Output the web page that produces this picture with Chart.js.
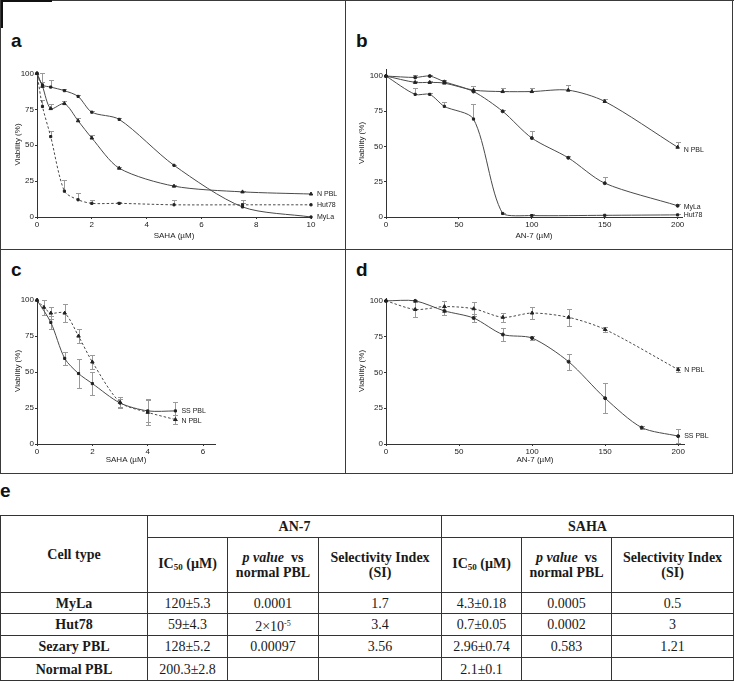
<!DOCTYPE html>
<html>
<head>
<meta charset="utf-8">
<script src="https://cdn.jsdelivr.net/npm/chart.js@4/dist/chart.umd.min.js"></script>
<style>
  body { margin: 0; background: #fff; width: 734px; height: 682px; position: relative; overflow: hidden;
         font-family: "Liberation Sans", Arial, sans-serif; }
  .rule { position: absolute; background: #3a3a3a; }
  .blk { position: absolute; background: #111; }
  .letter { position: absolute; font: bold 19px/19px "Liberation Sans", Arial, sans-serif; color: #111; }
  canvas { position: absolute; }
  table { position: absolute; left: 0; top: 515px; width: 733px; border-collapse: collapse; table-layout: fixed;
          font-family: "Liberation Serif", "Times New Roman", serif; font-size: 14px; color: #1a1a1a; }
  td { border: 1px solid #333; text-align: center; padding: 0; line-height: 15px; }
  td.h { font-weight: bold; }
  sub { font-size: 9px; vertical-align: -2px; }
  sup { font-size: 8px; vertical-align: 5px; }
</style>
</head>
<body>
<!-- panel frame -->
<div class="rule" style="left:0;top:0;width:734px;height:1px"></div>
<div class="blk" style="left:0;top:0;width:52px;height:2px"></div>
<div class="blk" style="left:0;top:0;width:3px;height:28px"></div>
<div class="rule" style="left:0;top:0;width:1px;height:474px"></div>
<div class="rule" style="left:345px;top:0;width:1px;height:474px"></div>
<div class="rule" style="left:732px;top:0;width:1px;height:474px"></div>
<div class="rule" style="left:0;top:249px;width:733px;height:1px"></div>
<div class="rule" style="left:0;top:473px;width:733px;height:1px"></div>

<div class="letter" style="left:11px;top:31px">a</div>
<div class="letter" style="left:356px;top:31px">b</div>
<div class="letter" style="left:11px;top:260px">c</div>
<div class="letter" style="left:356px;top:260px">d</div>
<div class="letter" style="left:0;top:481px">e</div>

<canvas id="chart-a" width="335" height="183" style="left:8px;top:62px"></canvas>
<canvas id="chart-b" width="379" height="187" style="left:352px;top:58px"></canvas>
<canvas id="chart-c" width="335" height="181" style="left:8px;top:288px"></canvas>
<canvas id="chart-d" width="379" height="181" style="left:352px;top:288px"></canvas>

<table>
  <colgroup>
    <col style="width:147px"><col style="width:80px"><col style="width:91px"><col style="width:123px">
    <col style="width:80px"><col style="width:90px"><col style="width:122px">
  </colgroup>
  <tr style="height:22px">
    <td class="h" rowspan="2">Cell type</td>
    <td class="h" colspan="3">AN-7</td>
    <td class="h" colspan="3">SAHA</td>
  </tr>
  <tr style="height:55px">
    <td class="h">IC<sub>50</sub> (µM)</td>
    <td class="h"><i>p value</i>&nbsp; vs<br>normal PBL</td>
    <td class="h">Selectivity Index<br>(SI)</td>
    <td class="h">IC<sub>50</sub> (µM)</td>
    <td class="h"><i>p value</i>&nbsp; vs<br>normal PBL</td>
    <td class="h">Selectivity Index<br>(SI)</td>
  </tr>
  <tr style="height:21px"><td class="h">MyLa</td><td>120±5.3</td><td>0.0001</td><td>1.7</td><td>4.3±0.18</td><td>0.0005</td><td>0.5</td></tr>
  <tr style="height:22px"><td class="h">Hut78</td><td>59±4.3</td><td>2×10<sup>-5</sup></td><td>3.4</td><td>0.7±0.05</td><td>0.0002</td><td>3</td></tr>
  <tr style="height:22px"><td class="h">Sezary PBL</td><td>128±5.2</td><td>0.00097</td><td>3.56</td><td>2.96±0.74</td><td>0.583</td><td>1.21</td></tr>
  <tr style="height:23px"><td class="h">Normal PBL</td><td>200.3±2.8</td><td></td><td></td><td>2.1±0.1</td><td></td><td></td></tr>
</table>

<script>
// 生存率曲線 (viability %) — 値は元図から目視で読み取り

// a: SAHA, cell lines
const A_X = [0, 0.2, 0.5, 1, 1.5, 2, 3, 5, 7.5, 10];
const A_MYLA = [100, 92, 90.5, 88, 84, 73, 68, 36, 7, 0];
const A_MYLA_ERR = [0, 8, 5, 1, 1, 0.5, 1, 0.5, 4.5, 0];
const A_NPBL = [100, 91, 75.5, 79, 67, 55, 34, 21.5, 17.5, 16];
const A_NPBL_ERR = [0, 3, 3, 2, 2, 2, 1, 0.5, 0.5, 0];
const A_HUT78 = [100, 77, 56, 18, 12, 9.5, 9.5, 8.5, 8.5, 8.5];
const A_HUT78_ERR = [0, 4.5, 4, 7.5, 5, 2, 1, 3, 1, 0];

// b: AN-7, cell lines
const B_X = [0, 20, 30, 40, 60, 80, 100, 125, 150, 200];
const B_NPBL = [100, 95.5, 95.5, 95, 90, 89, 89, 90, 82, 49.5];
const B_NPBL_ERR = [0, 1, 1, 1, 3, 2.5, 2.5, 3.5, 2, 3.5];
const B_MYLA = [100, 99, 100, 96, 89, 75, 56, 42, 24, 8];
const B_MYLA_ERR = [0, 1.5, 0.5, 1, 1, 1, 5, 1, 4.5, 1];
const B_HUT78_X = [0, 20, 30, 40, 60, 80, 100, 150, 200];
const B_HUT78 = [100, 87, 87, 78.5, 69.5, 2.5, 1, 1.2, 1.5];
const B_HUT78_ERR = [0, 4.5, 1, 3, 11, 0.5, 1, 0.5, 0.5];

// c: SAHA, Sezary vs normal PBL
const C_SS_X = [0, 0.5, 1, 1.5, 2, 3, 4, 5];
const C_SS = [100, 84.5, 59.5, 49, 42, 28.5, 23, 23];
const C_SS_ERR = [0, 4.5, 4.5, 10, 8, 3, 8, 6.5];
const C_N_X = [0, 0.25, 0.5, 1, 1.5, 2, 3, 4, 5];
const C_NPBL = [100, 95, 91, 91, 75, 57, 29, 22, 17];
const C_NPBL_ERR = [0, 5, 4, 6, 5, 5, 4, 8.5, 3];

// d: AN-7, Sezary vs normal PBL
const D_SS_X = [0, 20, 40, 60, 80, 100, 125, 150, 175, 200];
const D_SS = [100, 100, 93, 88, 76.5, 74, 57.5, 32, 11.5, 5.5];
const D_SS_ERR = [0, 0.5, 3, 3, 4.5, 1.5, 5.5, 10.5, 1, 5];
const D_N_X = [0, 20, 40, 60, 80, 100, 125, 150, 200];
const D_NPBL = [100, 94, 96, 94.5, 88.5, 91.5, 88.5, 80, 52];
const D_NPBL_ERR = [0, 5, 4, 5, 3, 4.5, 6, 1.5, 2];

const Y_TICKS = [0, 25, 50, 75, 100];
const SAHA_TICKS_A = [0, 2, 4, 6, 8, 10];
const SAHA_TICKS_C = [0, 2, 4, 6];
const AN7_TICKS = [0, 50, 100, 150, 200];

const INK = "#333";
const LINE_INK = "#4a4a4a";
const ERR_INK = "#9a9a9a";
const FONT = "'Liberation Sans', Arial, sans-serif";

function pts(xs, ys) {
  return xs.map((x, i) => ({ x, y: ys[i] }));
}

function series(xs, ys, errs, style, dashed, tag, tagDy) {
  return {
    data: pts(xs, ys),
    errors: errs,
    tag, tagDy: tagDy || 0,
    borderColor: LINE_INK, backgroundColor: "#222", borderWidth: 1,
    pointBorderColor: "#222",
    borderDash: dashed ? [2.5, 2] : [],
    pointStyle: style,
    pointRadius: style === "triangle" ? 2 : 1.5,
    pointBorderWidth: 1,
    tension: 0.28,
    clip: false,
  };
}

// エラーバー（上側のみ or 上下）
const errorBars = {
  id: "errorBars",
  beforeDatasetsDraw(chart, args, opts) {
    const { ctx } = chart;
    const ys = chart.scales.y;
    ctx.save();
    ctx.strokeStyle = ERR_INK;
    ctx.lineWidth = 1;
    chart.data.datasets.forEach((ds, di) => {
      const meta = chart.getDatasetMeta(di);
      (ds.errors || []).forEach((e, i) => {
        if (!e) return;
        const el = meta.data[i];
        const v = ds.data[i].y;
        const x = Math.round(el.x) + 0.5;
        const top = Math.round(ys.getPixelForValue(v + e)) + 0.5;
        const bot = opts.both ? Math.round(ys.getPixelForValue(v - e)) + 0.5 : el.y;
        ctx.beginPath();
        ctx.moveTo(x, top); ctx.lineTo(x, bot);
        ctx.moveTo(x - 2.5, top); ctx.lineTo(x + 2.5, top);
        if (opts.both) { ctx.moveTo(x - 2.5, bot); ctx.lineTo(x + 2.5, bot); }
        ctx.stroke();
      });
    });
    ctx.restore();
  },
};

// 系列名を最終点の右に表示
const endTags = {
  id: "endTags",
  afterDatasetsDraw(chart) {
    const { ctx } = chart;
    ctx.save();
    ctx.font = "7px " + FONT;
    ctx.fillStyle = "#222";
    ctx.textBaseline = "middle";
    chart.data.datasets.forEach((ds, di) => {
      if (!ds.tag) return;
      const meta = chart.getDatasetMeta(di);
      const el = meta.data[meta.data.length - 1];
      ctx.fillText(ds.tag, el.x + 6, el.y + ds.tagDy);
    });
    ctx.restore();
  },
};

function axis(extra) {
  return Object.assign({
    type: "linear",
    border: { display: true, color: INK, width: 1 },
    grid: { display: true, drawOnChartArea: false, drawTicks: true, tickLength: 2, color: INK },
    ticks: { color: "#222", font: { family: FONT, size: 8 }, padding: 1, maxRotation: 0 },
  }, extra);
}

function buildChart(id, cfg) {
  return new Chart(document.getElementById(id), {
    type: "line",
    data: { datasets: cfg.datasets },
    options: {
      responsive: false,
      animation: false,
      events: [],
      layout: { autoPadding: false, padding: cfg.padding },
      plugins: {
        legend: { display: false },
        tooltip: { enabled: false },
        errorBars: { both: cfg.both },
      },
      scales: {
        x: axis({
          min: 0, max: cfg.xMax,
          afterBuildTicks: ax => { ax.ticks = cfg.xTicks.map(v => ({ value: v })); },
          afterFit: s => { s.height = cfg.xH; },
          title: { display: true, text: cfg.xTitle, color: "#222", font: { family: FONT, size: 8 }, padding: { top: 0, bottom: 4 } },
        }),
        y: axis({
          min: 0, max: cfg.yMax,
          afterBuildTicks: ax => { ax.ticks = Y_TICKS.map(v => ({ value: v })); },
          afterFit: s => { s.width = cfg.yW; },
          title: { display: true, text: "Viability (%)", color: "#222", font: { family: FONT, size: 8 }, padding: { top: 5, bottom: 0 } },
        }),
      },
    },
    plugins: [errorBars, endTags],
  });
}

buildChart("chart-a", {
  datasets: [
    series(A_X, A_MYLA, A_MYLA_ERR, "rect", false, "MyLa", 0),
    series(A_X, A_NPBL, A_NPBL_ERR, "triangle", false, "N PBL", 0),
    series(A_X, A_HUT78, A_HUT78_ERR, "rect", true, "Hut78", 0),
  ],
  padding: { left: 0, right: 32, top: 10, bottom: 0 },
  xMax: 10, xTicks: SAHA_TICKS_A, xH: 28, xTitle: "SAHA (µM)",
  yMax: 101, yW: 29, both: false,
});

buildChart("chart-b", {
  datasets: [
    series(B_X, B_NPBL, B_NPBL_ERR, "triangle", false, "N PBL", 3),
    series(B_X, B_MYLA, B_MYLA_ERR, "circle", false, "MyLa", 1),
    series(B_HUT78_X, B_HUT78, B_HUT78_ERR, "rect", false, "Hut78", 0),
  ],
  padding: { left: 0, right: 49, top: 11, bottom: 0 },
  xMax: 203, xTicks: AN7_TICKS, xH: 28, xTitle: "AN-7 (µM)",
  yMax: 105, yW: 34, both: false,
});

buildChart("chart-c", {
  datasets: [
    series(C_SS_X, C_SS, C_SS_ERR, "rect", false, "SS PBL", 0),
    series(C_N_X, C_NPBL, C_NPBL_ERR, "triangle", true, "N PBL", 2),
  ],
  padding: { left: 0, right: 128, top: 10, bottom: 0 },
  xMax: 6.43, xTicks: SAHA_TICKS_C, xH: 25, xTitle: "SAHA (µM)",
  yMax: 101.5, yW: 29, both: true,
});

buildChart("chart-d", {
  datasets: [
    series(D_SS_X, D_SS, D_SS_ERR, "circle", false, "SS PBL", 0),
    series(D_N_X, D_NPBL, D_NPBL_ERR, "triangle", true, "N PBL", 0),
  ],
  padding: { left: 0, right: 47, top: 10, bottom: 0 },
  xMax: 204, xTicks: AN7_TICKS, xH: 25, xTitle: "AN-7 (µM)",
  yMax: 102, yW: 34, both: true,
});
</script>
</body>
</html>
